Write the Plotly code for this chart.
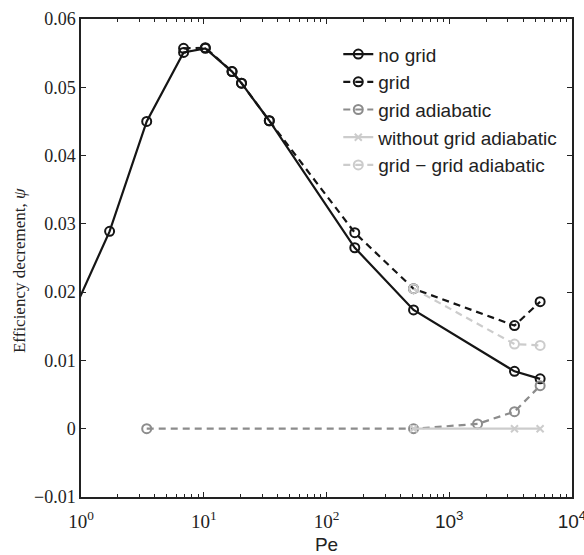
import plotly.graph_objects as go

# ---- data ----
pe_nogrid = [0.87, 1.71, 3.43, 6.85, 10.3, 17.0, 20.3, 34.2, 170, 512, 3400, 5500]
psi_nogrid = [0.0172, 0.0289, 0.0450, 0.0551, 0.0557, 0.0523, 0.0506, 0.0451, 0.0265, 0.0174, 0.0084, 0.0073]

pe_grid = [6.85, 10.3, 17.0, 20.3, 34.2, 170, 512, 3400, 5500]
psi_grid = [0.0557, 0.0558, 0.0523, 0.0506, 0.0451, 0.0287, 0.0205, 0.0151, 0.0186]

pe_grid_adia = [3.43, 512, 1700, 3400, 5500]
psi_grid_adia = [0.0, 0.0, 0.0007, 0.0025, 0.0063]

pe_nogrid_adia = [512, 3400, 5500]
psi_nogrid_adia = [0.0, 0.0, 0.0]

pe_diff = [512, 3400, 5500]
psi_diff = [0.0205, 0.0124, 0.0122]

y_ticks = [-0.01, 0, 0.01, 0.02, 0.03, 0.04, 0.05, 0.06]
y_ticktext = ["\u22120.01", "0", "0.01", "0.02", "0.03", "0.04", "0.05", "0.06"]
x_ticks = [1, 10, 100, 1000, 10000]
x_ticktext = ["10<sup>0</sup>", "10<sup>1</sup>", "10<sup>2</sup>",
              "<span style='font-family:Liberation Sans, Arial'>10<sup>3</sup></span>",
              "<span style='font-family:Liberation Sans, Arial'>10<sup>4</sup></span>"]

BLACK = "#151515"
MID = "#8c8c8c"
LIGHT = "#cccccc"
DASH = "7px,5px"

fig = go.Figure()

def add(x, y, name, color, dash, symbol, size, grp):
    fig.add_trace(go.Scatter(
        x=x, y=y, name=name, mode="lines+markers", legendgroup=grp,
        line=dict(color=color, width=2.2, dash=dash),
        marker=dict(symbol=symbol, size=size, color=color,
                    line=dict(color=color, width=2)),
    ))

add(pe_nogrid, psi_nogrid, "no grid", BLACK, "solid", "circle-open", 9, "a")
add(pe_grid, psi_grid, "grid", BLACK, DASH, "circle-open", 9, "b")
add(pe_grid_adia, psi_grid_adia, "grid adiabatic", MID, DASH, "circle-open", 9, "c")
add(pe_nogrid_adia, psi_nogrid_adia, "without grid adiabatic", LIGHT, "solid", "x-thin-open", 7, "d")
add(pe_diff, psi_diff, "grid \u2212 grid adiabatic", LIGHT, DASH, "circle-open", 9, "e")

fig.update_layout(
    width=584, height=555,
    margin=dict(l=81, r=12, t=19, b=58, autoexpand=False),
    paper_bgcolor="white", plot_bgcolor="white",
    showlegend=True,
    legend=dict(x=0.524, y=0.966, xanchor="left", yanchor="top",
                bgcolor="rgba(0,0,0,0)", borderwidth=0,
                font=dict(family="Liberation Sans, Arial", size=19, color="#222"),
                traceorder="grouped", tracegroupgap=0),
    font=dict(family="Liberation Serif, Times New Roman", size=18, color="#222"),
    annotations=[dict(
        text="Efficiency decrement, <i>\u03c8</i>", textangle=-90,
        xref="paper", yref="paper", x=-0.124, y=0.473,
        xanchor="center", yanchor="middle", showarrow=False,
        font=dict(family="Liberation Serif, Times New Roman", size=17, color="#222"),
    )],
)

fig.update_xaxes(
    type="log", range=[0, 4], automargin=False,
    tickvals=x_ticks, ticktext=x_ticktext,
    ticks="inside", ticklen=5, tickwidth=1, tickcolor="#222",
    ticklabeloverflow="allow", ticklabelstandoff=6,
    showline=True, linecolor="#222", linewidth=1.5, mirror="ticks",
    showgrid=False, zeroline=False,
    minor=dict(ticks="inside", ticklen=3, tickcolor="#222", dtick="D1", showgrid=False),
    tickfont=dict(family="Liberation Serif, Times New Roman", size=19, color="#222"),
    title=dict(text="Pe", font=dict(family="Liberation Sans, Arial", size=19, color="#222"), standoff=13),
)
fig.update_yaxes(
    range=[-0.01, 0.06], automargin=False,
    tickvals=y_ticks, ticktext=y_ticktext,
    ticks="inside", ticklen=5, tickwidth=1, tickcolor="#222",
    showline=True, linecolor="#222", linewidth=1.5, mirror="ticks",
    showgrid=False, zeroline=False,
    tickfont=dict(family="Liberation Serif, Times New Roman", size=18, color="#222"),
)

fig.write_html("out.html")
